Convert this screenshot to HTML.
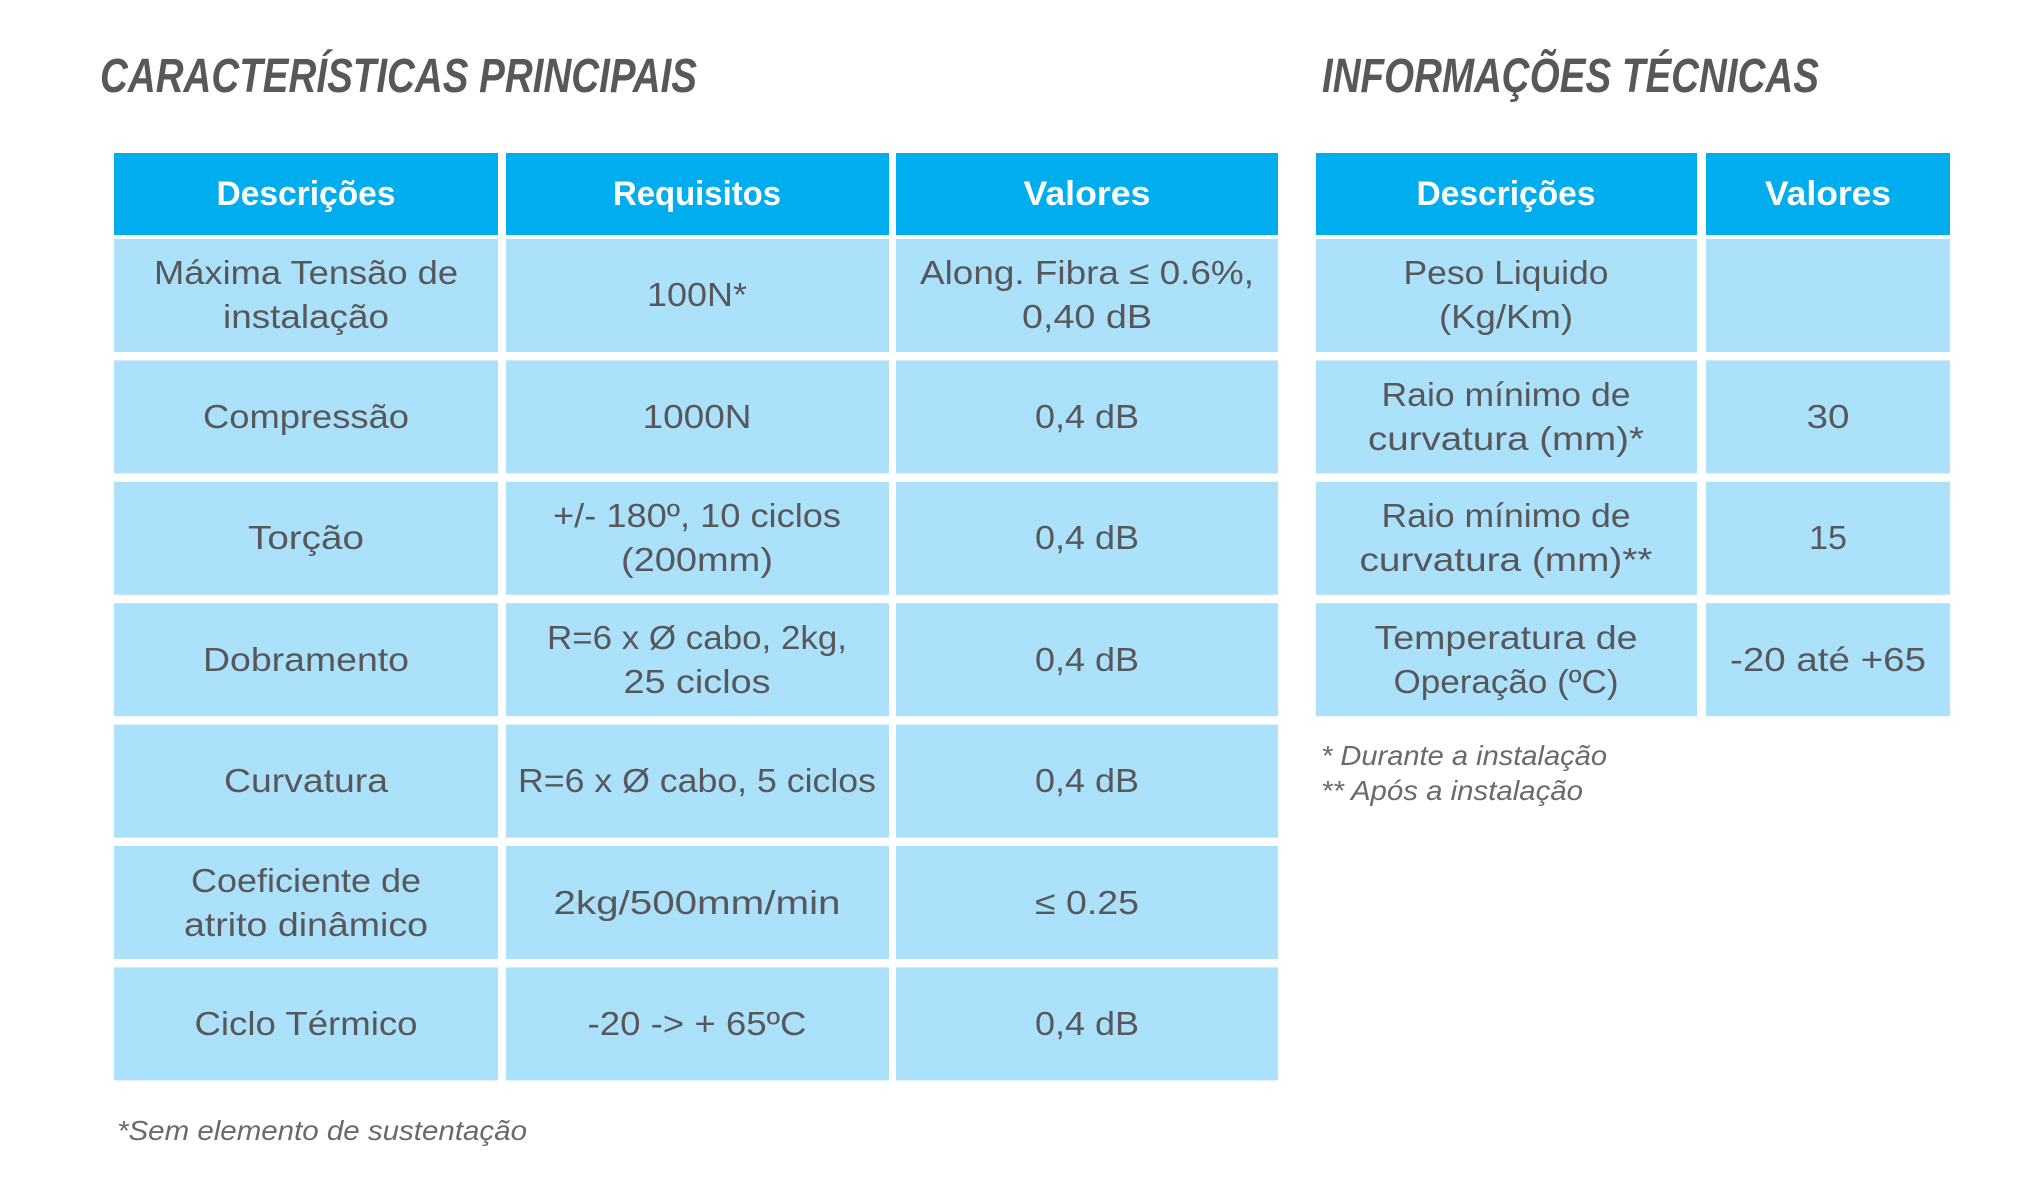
<!DOCTYPE html>
<html><head><meta charset="utf-8"><style>
html,body{margin:0;padding:0;background:#fff;}
svg{display:block;}
text{font-family:"Liberation Sans",sans-serif;}
.h{fill:#fff;font-weight:bold;font-size:34px;}
.c{fill:#58585a;font-size:33px;}
.t{fill:#58585a;font-weight:bold;font-style:italic;font-size:48px;}
.f{fill:#6a6a6c;font-style:italic;font-size:28px;}
</style></head><body>
<svg width="2025" height="1191" viewBox="0 0 2025 1191" xmlns="http://www.w3.org/2000/svg">
<rect width="2025" height="1191" fill="#fff"/>
<text class="t" x="100" y="92" textLength="597" lengthAdjust="spacingAndGlyphs">CARACTERÍSTICAS PRINCIPAIS</text>
<text class="t" x="1322" y="92" textLength="497" lengthAdjust="spacingAndGlyphs">INFORMAÇÕES TÉCNICAS</text>
<g fill="#00aeef">
<rect x="114" y="153" width="384" height="82"/><rect x="506" y="153" width="383" height="82"/><rect x="896" y="153" width="382" height="82"/>
<rect x="1316" y="153" width="381" height="82"/><rect x="1706" y="153" width="244" height="82"/>
</g>
<g fill="#abe1fa">
<rect x="114" y="239" width="384" height="113"/><rect x="506" y="239" width="383" height="113"/><rect x="896" y="239" width="382" height="113"/>
<rect x="114" y="360.4" width="384" height="113"/><rect x="506" y="360.4" width="383" height="113"/><rect x="896" y="360.4" width="382" height="113"/>
<rect x="114" y="481.8" width="384" height="113"/><rect x="506" y="481.8" width="383" height="113"/><rect x="896" y="481.8" width="382" height="113"/>
<rect x="114" y="603.2" width="384" height="113"/><rect x="506" y="603.2" width="383" height="113"/><rect x="896" y="603.2" width="382" height="113"/>
<rect x="114" y="724.6" width="384" height="113"/><rect x="506" y="724.6" width="383" height="113"/><rect x="896" y="724.6" width="382" height="113"/>
<rect x="114" y="846" width="384" height="113"/><rect x="506" y="846" width="383" height="113"/><rect x="896" y="846" width="382" height="113"/>
<rect x="114" y="967.4" width="384" height="113"/><rect x="506" y="967.4" width="383" height="113"/><rect x="896" y="967.4" width="382" height="113"/>
<rect x="1316" y="239" width="381" height="113"/><rect x="1706" y="239" width="244" height="113"/>
<rect x="1316" y="360.4" width="381" height="113"/><rect x="1706" y="360.4" width="244" height="113"/>
<rect x="1316" y="481.8" width="381" height="113"/><rect x="1706" y="481.8" width="244" height="113"/>
<rect x="1316" y="603.2" width="381" height="113"/><rect x="1706" y="603.2" width="244" height="113"/>
</g>
<g text-anchor="middle">
<text class="h" x="306" y="205" textLength="179" lengthAdjust="spacingAndGlyphs">Descrições</text>
<text class="h" x="697" y="205" textLength="168" lengthAdjust="spacingAndGlyphs">Requisitos</text>
<text class="h" x="1087" y="205" textLength="127" lengthAdjust="spacingAndGlyphs">Valores</text>
<text class="h" x="1506" y="205" textLength="179" lengthAdjust="spacingAndGlyphs">Descrições</text>
<text class="h" x="1828" y="205" textLength="126" lengthAdjust="spacingAndGlyphs">Valores</text>

<text class="c" x="306" y="284" textLength="304" lengthAdjust="spacingAndGlyphs">Máxima Tensão de</text>
<text class="c" x="306" y="328" textLength="166" lengthAdjust="spacingAndGlyphs">instalação</text>
<text class="c" x="697" y="306" textLength="100" lengthAdjust="spacingAndGlyphs">100N*</text>
<text class="c" x="1087" y="284" textLength="334" lengthAdjust="spacingAndGlyphs">Along. Fibra ≤ 0.6%,</text>
<text class="c" x="1087" y="328" textLength="130" lengthAdjust="spacingAndGlyphs">0,40 dB</text>

<text class="c" x="306" y="428" textLength="206" lengthAdjust="spacingAndGlyphs">Compressão</text>
<text class="c" x="697" y="428" textLength="109" lengthAdjust="spacingAndGlyphs">1000N</text>
<text class="c" x="1087" y="428" textLength="104" lengthAdjust="spacingAndGlyphs">0,4 dB</text>

<text class="c" x="306" y="549" textLength="116" lengthAdjust="spacingAndGlyphs">Torção</text>
<text class="c" x="697" y="527" textLength="288" lengthAdjust="spacingAndGlyphs">+/- 180º, 10 ciclos</text>
<text class="c" x="697" y="571" textLength="152" lengthAdjust="spacingAndGlyphs">(200mm)</text>
<text class="c" x="1087" y="549" textLength="104" lengthAdjust="spacingAndGlyphs">0,4 dB</text>

<text class="c" x="306" y="671" textLength="206" lengthAdjust="spacingAndGlyphs">Dobramento</text>
<text class="c" x="697" y="649" textLength="300" lengthAdjust="spacingAndGlyphs">R=6 x Ø cabo, 2kg,</text>
<text class="c" x="697" y="693" textLength="147" lengthAdjust="spacingAndGlyphs">25 ciclos</text>
<text class="c" x="1087" y="671" textLength="104" lengthAdjust="spacingAndGlyphs">0,4 dB</text>

<text class="c" x="306" y="792" textLength="164" lengthAdjust="spacingAndGlyphs">Curvatura</text>
<text class="c" x="697" y="792" textLength="358" lengthAdjust="spacingAndGlyphs">R=6 x Ø cabo, 5 ciclos</text>
<text class="c" x="1087" y="792" textLength="104" lengthAdjust="spacingAndGlyphs">0,4 dB</text>

<text class="c" x="306" y="892" textLength="230" lengthAdjust="spacingAndGlyphs">Coeficiente de</text>
<text class="c" x="306" y="936" textLength="244" lengthAdjust="spacingAndGlyphs">atrito dinâmico</text>
<text class="c" x="697" y="914" textLength="287" lengthAdjust="spacingAndGlyphs">2kg/500mm/min</text>
<text class="c" x="1087" y="914" textLength="104" lengthAdjust="spacingAndGlyphs">≤ 0.25</text>

<text class="c" x="306" y="1035" textLength="223" lengthAdjust="spacingAndGlyphs">Ciclo Térmico</text>
<text class="c" x="697" y="1035" textLength="219" lengthAdjust="spacingAndGlyphs">-20 -&gt; + 65ºC</text>
<text class="c" x="1087" y="1035" textLength="104" lengthAdjust="spacingAndGlyphs">0,4 dB</text>

<text class="c" x="1506" y="284" textLength="205" lengthAdjust="spacingAndGlyphs">Peso Liquido</text>
<text class="c" x="1506" y="328" textLength="134" lengthAdjust="spacingAndGlyphs">(Kg/Km)</text>

<text class="c" x="1506" y="406" textLength="249" lengthAdjust="spacingAndGlyphs">Raio mínimo de</text>
<text class="c" x="1506" y="450" textLength="276" lengthAdjust="spacingAndGlyphs">curvatura (mm)*</text>
<text class="c" x="1828" y="428" textLength="43" lengthAdjust="spacingAndGlyphs">30</text>

<text class="c" x="1506" y="527" textLength="249" lengthAdjust="spacingAndGlyphs">Raio mínimo de</text>
<text class="c" x="1506" y="571" textLength="293" lengthAdjust="spacingAndGlyphs">curvatura (mm)**</text>
<text class="c" x="1828" y="549" textLength="38" lengthAdjust="spacingAndGlyphs">15</text>

<text class="c" x="1506" y="649" textLength="263" lengthAdjust="spacingAndGlyphs">Temperatura de</text>
<text class="c" x="1506" y="693" textLength="225" lengthAdjust="spacingAndGlyphs">Operação (ºC)</text>
<text class="c" x="1828" y="671" textLength="196" lengthAdjust="spacingAndGlyphs">-20 até +65</text>
</g>
<text class="f" x="1321" y="765" textLength="286" lengthAdjust="spacingAndGlyphs">* Durante a instalação</text>
<text class="f" x="1321" y="800" textLength="262" lengthAdjust="spacingAndGlyphs">** Após a instalação</text>
<text class="f" x="117" y="1140" textLength="410" lengthAdjust="spacingAndGlyphs">*Sem elemento de sustentação</text>
</svg>
</body></html>
